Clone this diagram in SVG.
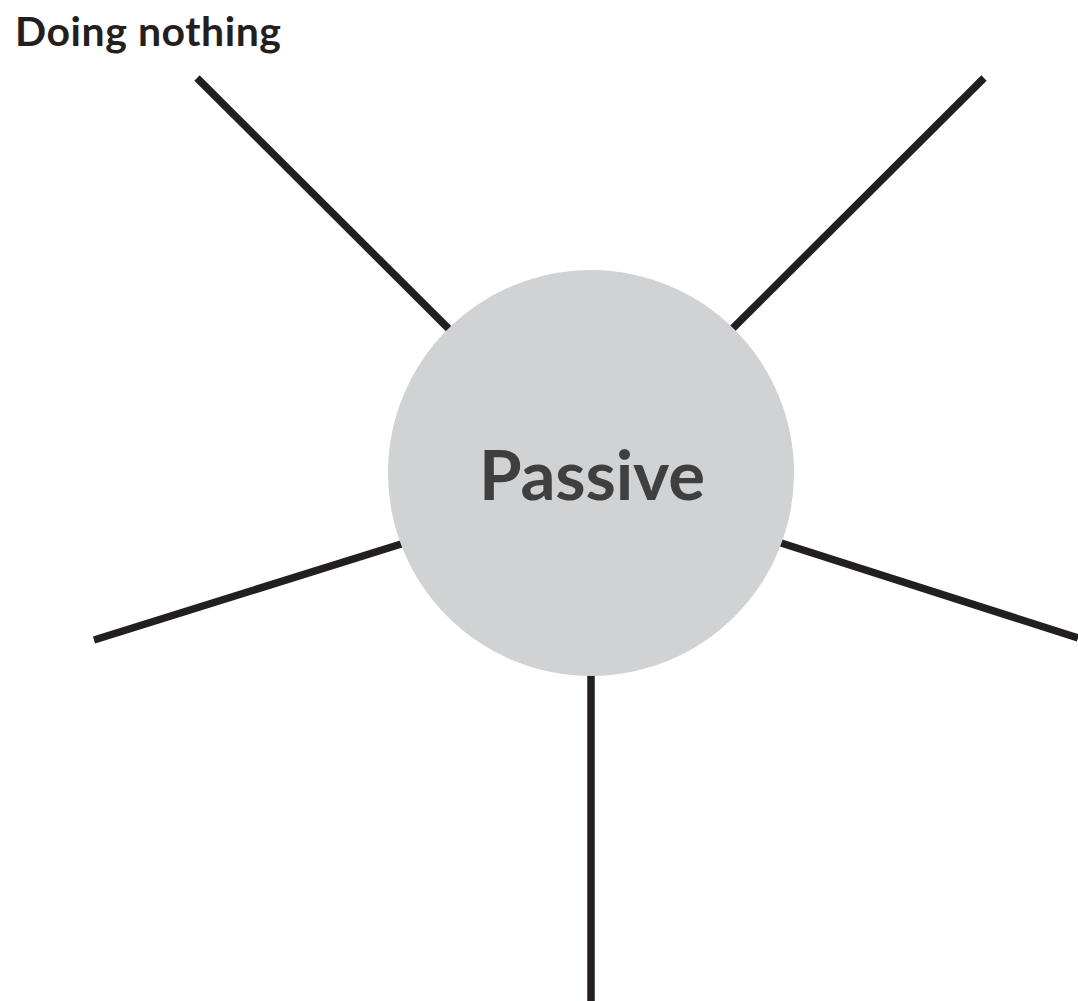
<svg xmlns="http://www.w3.org/2000/svg" width="1078" height="1001" viewBox="0 0 1078 1001">
<style>
.conn{stroke:#231f20;stroke-width:7.5;fill:none}
.lbl{font-family:Lato,"Liberation Sans",sans-serif;font-weight:bold}
</style>
<rect width="1078" height="1001" fill="#ffffff"/>
<g id="connectors">
<line class="conn" x1="197" y1="78" x2="470" y2="350"/>
<line class="conn" x1="984" y1="78" x2="713" y2="348"/>
<line class="conn" x1="94" y1="640" x2="430" y2="535"/>
<line class="conn" x1="1078" y1="638" x2="750" y2="533"/>
<line class="conn" x1="591" y1="650" x2="591" y2="1001"/>
</g>
<g id="node-passive">
<circle cx="591" cy="473" r="203" fill="#d1d2d4"/>
<text class="lbl" x="592" y="500" text-anchor="middle" font-size="69" fill="#3f3f3f" textLength="226" lengthAdjust="spacing">Passive</text>
</g>
<g id="label-doing-nothing">
<text class="lbl" x="15" y="46" font-size="41" fill="#231f20" textLength="266" lengthAdjust="spacing">Doing nothing</text>
</g>
</svg>
